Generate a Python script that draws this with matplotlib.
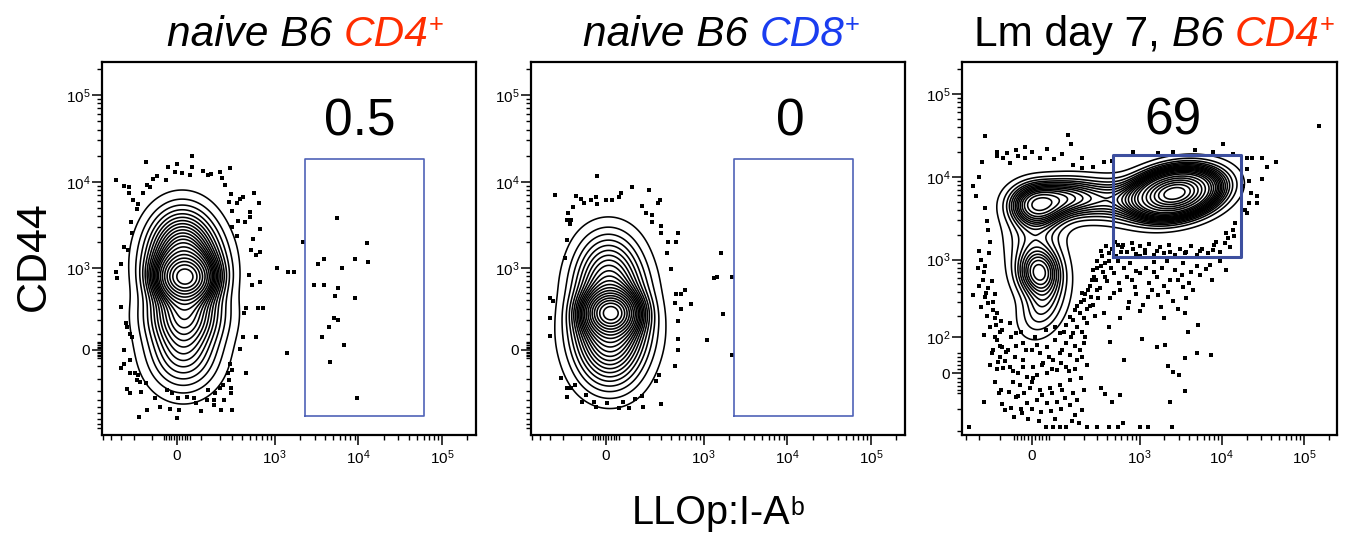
import numpy as np
import matplotlib
matplotlib.use('Agg')
import matplotlib.pyplot as plt

plt.rcParams['font.family'] = ['Liberation Sans', 'DejaVu Sans']
plt.rcParams['mathtext.fontset'] = 'custom'
plt.rcParams['mathtext.rm'] = 'Liberation Sans'
plt.rcParams['mathtext.it'] = 'Liberation Sans:italic'
plt.rcParams['mathtext.bf'] = 'Liberation Sans:bold'

W, H = 1346, 538

# ---------------- data ----------------
gate_pct = ['0.5', '0', '69']
gate_naive = (2300, 61000, -640, 18200)      # x0, x1, y0, y1
gate_lm = (470, 16900, 1080, 18200)

# populations for the contours: x, y centre, spread (asinh units) sx, sy, corr, weight
pops_naive_cd4 = [(25, -20, 0.66, 0.70, 0.0, 0.18),
                  (30, 271, 0.68, 0.55, 0.0, 0.22),
                  (32, 755, 0.52, 0.38, 0.0, 0.25),
                  (28, 1264, 0.66, 0.55, 0.0, 0.22),
                  (20, 2560, 0.60, 0.60, 0.0, 0.13)]
pops_naive_cd8 = [(15, -70, 0.64, 0.65, 0.0, 0.18),
                  (18, 120, 0.66, 0.55, 0.0, 0.25),
                  (20, 271, 0.48, 0.35, 0.0, 0.25),
                  (15, 549, 0.64, 0.55, 0.0, 0.19),
                  (10, 1264, 0.60, 0.62, 0.0, 0.13)]
pops_lm_cd4 = [(2675, 6300, 0.75, 0.42, 0.25, 0.55),
               (15, 4675, 0.50, 0.38, 0.0, 0.12),
               (20, 697, 0.42, 0.45, 0.0, 0.09),
               (5, 1900, 0.55, 0.60, 0.0, 0.06),
               (30, 250, 0.45, 0.55, 0.3, 0.05),
               (320, 5400, 0.70, 0.38, 0.0, 0.08),
               (115, 5700, 0.50, 0.35, 0.0, 0.05)]

# events outside the outer contour
p1_x = [60, -128, 0, 60, -34, 280, 108, -6, 205, 19, 49, 133, 150, -79, -345, -93, -41, 215, 238, -270,
        -232, -232, -122, -108, -147, 284, 560, 408, -204, 375, 266, 345, -172, 650, -182, 505, 295, 505,
        -220, 355, 430, 660, 300, -213, 340, 550, -270, -240, 520, 660, 590, -295, -345, -340, 490, 530,
        660, -300, 445, 620, 720, 420, -256, -248, -223, -213, 405, 590, -275, 375, -228, -275, -300, 275,
        300, 445, -195, -228, -172, 258, 266, -182, -159, -131, 222, 205, -248, -223, -154, 284, 284, -38,
        -19, 133, 170, -87, 6, 38, 69, 125, 166, 230, -63, -27, 10, 75, 100, 166, 210, 300, -165, -122, 0,
        1057, 1440, 1700, 2200, 1390,
        5600, 12580, 3300, 3930, 9000, 12900, 6350, 2990, 3930, 5730, 5320, 9000, 5150, 5650, 4400, 3710,
        6650, 4600, 9700]
p1_y = [19700, 16900, 16200, 15000, 14700, 14300, 13300, 13000, 12800, 12600, 12100, 12000, 12300, 11600,
        10500, 10900, 10500, 11100, 9300, 8900, 8600, 7500, 9100, 8600, 7500, 7200, 7400, 6600, 6170, 6300,
        5900, 5700, 5500, 5700, 4900, 4500, 4600, 3950, 3400, 3520, 3400, 2830, 3050, 2570, 2400, 2170,
        1780, 1650, 1650, 1540, 1410, 1130, 900, 760, 820, 630, 680, 320, 310, 310, 310, 265, 180, 150,
        103, 82, 82, 78, 0, 4, -62, -88, -117, -88, -128, -147, -150, -150, -165, -150, -204, -204, -225,
        -230, -245, -277, -288, -326, -317, -277, -320, -296, -326, -296, -326, -385, -385, -373, -385,
        -404, -404, -404, -505, -535, -543, -440, -553, -475, -543, -543, -670, -543, -690,
        1000, 900, 900, 2010, -20,
        3850, 1960, 1130, 1290, 1270, 1190, 1000, 625, 625, 570, 450, 430, 220, 204, 148, 84, 29, -77, -385]

p2_x = [-32, -255, 106, 200, -122, -36, 58, 51, 0, 25, -101, -58, -87, -32, 284, 270, 158, -140, -165, -172,
        222, 182, 226, 300, -150, -154, 295, 480, -176, 365, 456, -188, 355, 400, -300, -270, -295, -300,
        456, 530, 585, 445, 530, 710, 480, 480, 490, 440, 275, -210, 252, -176, -152, -172, -131, -76, -97,
        -45, 4, -36, 51, 69, 92, 121, 160, 166, 300,
        1600, 1320, 1440, 2200, 1700, 1100, 2200]
p2_y = [11600, 7000, 8600, 8040, 6900, 6600, 7500, 6600, 6170, 6170, 6300, 6170, 5700, 5600, 6170, 5700,
        5250, 5150, 4400, 3650, 4150, 4400, 3400, 3100, 3620, 3300, 2540, 2570, 2130, 2000, 2000, 1300,
        1510, 970, 425, 395, 220, 86, 480, 480, 543, 365, 300, 360, 195, 66, 0, -100, -165, -190, -215,
        -277, -277, -373, -245, -350, -425, -425, -440, -495, -510, -425, -510, -395, -362, -495, -460,
        1510, 760, 780, 780, 257, 62, -30]

p3_x = [-165, 118, 130, -19, -110, -43, 42, 0, -72, -38, -110, 92, 186, 23, -19, 65, -86, -64, 138, 190,
        265, 360, 465, 820, 1700, 2560, 4700, 7750, 10400, 13700, 152000,
        20000, 23000, 30500, 45300, 35000, 20000, 21600, 30500, 18200, 26500, 21600, 22600, 27000, 19000,
        20000, 14400, 13700, 11200, 12000, 8600,
        -240, -200, -186, -220, -165, -155, -150, -143, -205, -145, -165, -180, -134, -240, -160, -150, -128,
        -120, -115, -100, -110, -92, -134, -100, -75, -107, -86, -104, -172, -80, -275,
        -64, -43, -24, 0, 23, 42, 68, 85, 110, 140, 178, 140, 110, 85, 62, 32, 4, -24, -48, -64, -38, -14,
        14, 42, 75, 110, 160, 178, 200, 125, 85, 52, 23, -5, -33, -52, -38, -14, 14, 42, 75, 105, 140, 186,
        134, 85, 110, 62, 40, -10, -28, 218,
        200, 230, 253, 265, 300, 330, 390, 500, 160, 186, 125, 330, 420, 370, 300, 240, 218, 360, 480,
        604, 830, 1170, 1620, 2350, 3700, 5450, 7800, 9500, 11400, 550, 765, 1010, 1480, 2140, 3400, 4980,
        7200, 480, 700, 1010, 1620, 2350, 3400, 4500, 7530, 580, 870, 1260, 1700, 2560, 3700, 435, 720,
        1010, 1960, 3600, 5200, 580, 420, 435, 1060, 1620, 2020, 3900, 4980, 7350, 3600, 640, 2250, 2560,
        3050, 330, 380, 570, 453, 3550, 2320, 630, 420, 550, 1010, 1260, 2460, 300,
        # dense cloud near the origin
        -120, -90, -60, -30, 10, 40, 70, 100, 130, 160, 190, -130, -100, -70, -45, -15, 15, 50, 95, 125,
        150, 190, 210, -140, -110, -80, -55, -25, 5, 30, 60, 90, 120, 150, 180, 220, -120, -95, -65, -45,
        -20, 0, 30, 60, 95, 125, 160, 200, -90, -60, -30, 0, 25, 55, 90, 150, -50, 20, 70, 170,
        # left column
        -190, -175, -200, -170, -190, -155, -140, -175, -130, -110, -95, -150, -120, -210,
        # right side of the tail
        150, 180, 210, 240, 270, 300, 340, 290, 250, 220, 200, 260, 320, 350, 380, 420, 460, 550, 280, 310,
        400, 450, 520, 600,
        # low edge of the gate and below it
        620, 700, 800, 900, 1000, 1150, 1300, 1500, 1750, 2000, 2300, 2700, 3100, 3600, 4200, 5000, 5800,
        6800, 8000, 9500, 11000, 12500, 14000,
        650, 900, 1200, 1500, 1900, 2700, 3300, 4200, 5500, 6500, 800, 1300, 2000, 2900, 4000, 560, 900,
        1400, 2200, 1100, 1800, 2900, 750]
p3_y = [31000, 32000, 25000, 23000, 19800, 21000, 21300, 20000, 19500, 17700, 17700, 18800, 17000, 17000,
        16700, 16400, 17000, 14500, 13900, 12800, 13100, 15200, 15600, 20000, 19150, 19800, 21000, 19800,
        25000, 18600, 41000,
        16700, 17000, 17000, 15200, 13100, 12400, 8900, 9300, 7800, 5900, 4780, 6300, 4780, 3950, 3615,
        2740, 2300, 2075, 1800, 1640,
        7800, 10000, 15200, 5900, 4200, 2900, 2300, 1640, 1260, 1190, 830, 570, 550, 370, 387, 291, 240,
        190, 150, 120, 90, 69, 50, 40, 53, 28, 12, -50, -74, -102, -178,
        160, 115, 79, 58, 50, 69, 90, 115, 150, 180, 217, 115, 79, 50, 32, 24, 16, 32, 40, 16, 0, -8, -4,
        0, 8, 16, 32, 58, 79, -16, -28, -36, -40, -36, -28, -20, -58, -79, -70, -79, -74, -64, -50, -102,
        -150, -178, -178, -178, -178, -140, -115, -178,
        320, 425, 570, 740, 970, 1260, 1450, 1640, 270, 387, 195, 830, 970, 620, 425, 270, 160, 217, 387,
        1400, 1350, 1300, 1260, 1230, 1230, 1260, 1300, 970, 740, 970, 900, 1090, 930, 970, 900, 830,
        860, 682, 620, 682, 620, 570, 470, 425, 570, 425, 470, 350, 370, 310, 335, 335, 255, 230, 190,
        217, 150, 190, 140, 85, 95, 69, 75, 120, 50, 45, 38, 32, 17, 4, -4, -36, -52, -55, -74, -43, -74,
        -160, -178, -178, -178, -178, -178, -178,
        100, 130, 100, 120, 100, 130, 140, 120, 100, 140, 120, 60, 70, 60, 70, 60, 75, 40, 60, 45,
        70, 40, 100, 20, 10, 30, 5, 15, -10, 20, 10, 25, 5, 10, -10, 20, -20, -40, -45, -60,
        -50, -20, -55, -50, -40, -85, -70, -40, -80, -95, -100, -100, -110, -105, -100, -120, -130, -150, -140, -160,
        1000, 700, 480, 350, 260, 200, 140, 110, 300, 220, 170, 450, 380, 800,
        240, 300, 380, 480, 620, 800, 1100, 560, 350, 250, 190, 280, 450, 700, 900, 1200, 1350, 1500, 200, 340,
        550, 780, 1100, 1250,
        1500, 1250, 1600, 1180, 1450, 1200, 1550, 1150, 1400, 1200, 1500, 1150, 1350, 1200, 1450, 1150, 1350,
        1200, 1500, 1250, 1600, 1400, 1900,
        800, 720, 800, 700, 800, 750, 650, 700, 650, 760, 560, 520, 480, 560, 520, 520, 380,
        430, 400, 280, 260, 250, 300]

titles = [[('naive B6 ', 'k', 'italic', 1.0, 0), ('CD4', '#ff2d00', 'italic', 1.0, 0),
           ('+', '#ff2d00', 'normal', 0.6, 14)],
          [('naive B6 ', 'k', 'italic', 1.0, 0), ('CD8', '#1a3df0', 'italic', 1.0, 0),
           ('+', '#1a3df0', 'normal', 0.6, 14)],
          [('Lm day 7, ', 'k', 'normal', 1.0, 0), ('B6 ', 'k', 'italic', 1.0, 0),
           ('CD4', '#ff2d00', 'italic', 1.0, 0), ('+', '#ff2d00', 'normal', 0.6, 14)]]

# ---------------- layout ----------------
fig = plt.figure(figsize=(W / 100, H / 100), dpi=100)
renderer = fig.canvas.get_renderer()


def add_ax(x0, x1, y0, y1):
    return fig.add_axes([x0 / W, 1 - y1 / H, (x1 - x0) / W, (y1 - y0) / H])


def minor_ticks(lo, hi):
    out = []
    for dec in [10, 100, 1000, 10000, 100000]:
        for m in range(1, 10):
            if dec == 10 and m > 5:
                continue
            if m == 1 and dec >= 1000:
                continue
            for s in (1, -1):
                v = s * m * dec
                if lo < v < hi:
                    out.append(v)
    return out


def setup(ax, cx, cy, xlim, ylim, yt):
    ax.set_xscale('function', functions=(lambda v, c=cx: np.arcsinh(v / c), lambda u, c=cx: c * np.sinh(u)))
    ax.set_yscale('function', functions=(lambda v, c=cy: np.arcsinh(v / c), lambda u, c=cy: c * np.sinh(u)))
    ax.set_xlim(*xlim)
    ax.set_ylim(*ylim)
    xt = [0, 1e3, 1e4, 1e5]
    ax.set_xticks(xt)
    ax.set_xticklabels(['0', '$10^3$', '$10^4$', '$10^5$'])
    ax.set_yticks(yt)
    ax.set_yticklabels(['0' if t == 0 else '$10^%d$' % round(np.log10(t)) for t in yt])
    ax.set_xticks(minor_ticks(*xlim), minor=True)
    ax.set_yticks([t for t in minor_ticks(*ylim) if t not in yt], minor=True)
    ax.tick_params(which='major', length=7, width=1.1, labelsize=11, direction='out')
    ax.tick_params(which='minor', length=3.5, width=1.0, direction='out')
    ax.tick_params(axis='x', pad=3)
    ax.tick_params(axis='y', pad=1.5)
    for s in ax.spines.values():
        s.set_linewidth(1.6)


def draw_contours(ax, cx, cy, xlim, ylim, pops):
    u = np.linspace(np.arcsinh(xlim[0] / cx), np.arcsinh(xlim[1] / cx), 400)
    v = np.linspace(np.arcsinh(ylim[0] / cy), np.arcsinh(ylim[1] / cy), 400)
    U, V = np.meshgrid(u, v)
    Z = np.zeros_like(U)
    for x0, y0, su, sv, rho, w in pops:
        a = (U - np.arcsinh(x0 / cx)) / su
        b = (V - np.arcsinh(y0 / cy)) / sv
        q = (a * a - 2 * rho * a * b + b * b) / (1 - rho ** 2)
        Z += w * np.exp(-q / 2) / (su * sv * np.sqrt(1 - rho ** 2))
    zs = np.sort(Z.ravel())[::-1]
    cs = np.cumsum(zs)
    cs /= cs[-1]
    fr = np.arange(0.04, 0.97, 0.046)
    levels = np.unique(np.interp(fr, cs, zs))
    ax.contour(cx * np.sinh(U), cy * np.sinh(V), Z, levels=levels, colors='k', linewidths=1.15)


panels = [
    dict(box=(102, 476, 62, 435), cx=136, cy=231, xlim=(-520, 252600), ylim=(-1090, 240000),
         yt=[0, 1e3, 1e4, 1e5], pops=pops_naive_cd4, px=p1_x, py=p1_y, gate=gate_naive,
         gc='#4f62b8', glw=1.2, lab=(10460, 34500)),
    dict(box=(531, 905, 62, 435), cx=136, cy=231, xlim=(-520, 252600), ylim=(-1090, 240000),
         yt=[0, 1e3, 1e4, 1e5], pops=pops_naive_cd8, px=p2_x, py=p2_y, gate=gate_naive,
         gc='#4f62b8', glw=1.2, lab=(10900, 34500)),
    dict(box=(962, 1337, 62, 435), cx=98, cy=85, xlim=(-337, 251000), ylim=(-228, 242000),
         yt=[0, 1e2, 1e3, 1e4, 1e5], pops=pops_lm_cd4, px=p3_x, py=p3_y, gate=gate_lm,
         gc='#3d4f9f', glw=2.2, lab=(2545, 31900)),
]

for i, p in enumerate(panels):
    ax = add_ax(*p['box'])
    setup(ax, p['cx'], p['cy'], p['xlim'], p['ylim'], p['yt'])
    draw_contours(ax, p['cx'], p['cy'], p['xlim'], p['ylim'], p['pops'])
    ax.plot(p['px'], p['py'], 's', ms=3, mew=0, color='k', clip_on=True)
    g = p['gate']
    ax.plot([g[0], g[1], g[1], g[0], g[0]], [g[2], g[2], g[3], g[3], g[2]], color=p['gc'], lw=p['glw'])
    ax.text(p['lab'][0], p['lab'][1], gate_pct[i], ha='center', va='baseline', fontsize=37)


def text_width(s, **kw):
    t = fig.text(0, 0, s + '|', **kw)
    w = t.get_window_extent(renderer).width
    t.remove()
    t = fig.text(0, 0, '|', **kw)
    w -= t.get_window_extent(renderer).width
    t.remove()
    return w


def rich(x, y, parts, size):
    for s, color, style, scale, rise in parts:
        kw = dict(fontsize=size * scale, fontstyle=style, color=color)
        fig.text(x / W, 1 - (y - rise) / H, s, va='baseline', ha='left', **kw)
        x += text_width(s, **kw)


rich(167, 46, titles[0], 30.5)
rich(583, 46, titles[1], 30.5)
rich(974, 46, titles[2], 30.5)

fig.text(34 / W, 1 - 256 / H, 'CD44', rotation=90, ha='center', va='center', fontsize=31)
rich(632, 523.5, [('LLOp:I-A', 'k', 'normal', 1.0, 0), ('b', 'k', 'normal', 0.63, 8.5)], 28.5)

fig.savefig('out.png', dpi=100)
